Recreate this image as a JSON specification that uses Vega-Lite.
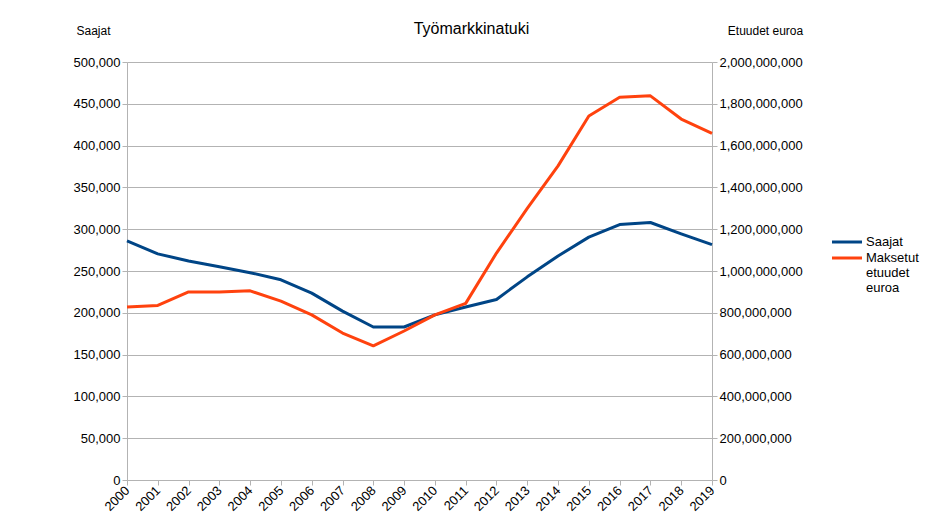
{
  "$schema": "https://vega.github.io/schema/vega-lite/v6.json",
  "width": 585,
  "height": 418,
  "autosize": {"type": "none"},
  "padding": {"left": 127, "top": 62, "right": 231, "bottom": 50},
  "background": "white",
  "config": {
    "font": "Liberation Sans",
    "view": {"stroke": null},
    "style": {"guide-label": {"lineHeight": 15}},
    "axis": {"labelFont": "Liberation Sans", "titleFont": "Liberation Sans", "labelColor": "#000", "titleColor": "#000", "titleFontWeight": "normal", "domainColor": "#b3b3b3", "tickColor": "#b3b3b3", "gridColor": "#b3b3b3"}
  },
  "title": {"text": "Työmarkkinatuki", "fontSize": 16, "fontWeight": "normal", "font": "Liberation Sans", "color": "#000", "anchor": "middle", "frame": "group", "dx": 52, "offset": -13},
  "data": {
    "values": [
      {"year": "2000", "saajat": 286000, "euro": 828000000},
      {"year": "2001", "saajat": 270500, "euro": 835000000},
      {"year": "2002", "saajat": 262000, "euro": 900000000},
      {"year": "2003", "saajat": 255000, "euro": 900000000},
      {"year": "2004", "saajat": 248000, "euro": 905000000},
      {"year": "2005", "saajat": 239500, "euro": 856000000},
      {"year": "2006", "saajat": 223500, "euro": 790000000},
      {"year": "2007", "saajat": 202000, "euro": 703000000},
      {"year": "2008", "saajat": 183000, "euro": 642000000},
      {"year": "2009", "saajat": 183000, "euro": 713000000},
      {"year": "2010", "saajat": 197500, "euro": 790000000},
      {"year": "2011", "saajat": 207000, "euro": 845000000},
      {"year": "2012", "saajat": 216000, "euro": 1086000000},
      {"year": "2013", "saajat": 243000, "euro": 1300000000},
      {"year": "2014", "saajat": 268000, "euro": 1503000000},
      {"year": "2015", "saajat": 290500, "euro": 1742000000},
      {"year": "2016", "saajat": 305500, "euro": 1831000000},
      {"year": "2017", "saajat": 308000, "euro": 1838000000},
      {"year": "2018", "saajat": 294500, "euro": 1727000000},
      {"year": "2019", "saajat": 281500, "euro": 1659000000}
    ]
  },
  "encoding": {
    "x": {"field": "year", "type": "ordinal", "scale": {"type": "point", "padding": 0},
      "axis": {"title": null, "labelAngle": -45, "labelAlign": "right", "labelBaseline": "middle", "labelFontSize": 13, "tickSize": 5, "grid": false, "labelPadding": 3}}
  },
  "layer": [
    {
      "mark": {"type": "line", "strokeWidth": 3, "strokeJoin": "round"},
      "encoding": {
        "y": {"field": "saajat", "type": "quantitative", "scale": {"domain": [0, 500000]},
          "axis": {"title": "Saajat", "titleAngle": 0, "titleAlign": "center", "titleBaseline": "middle", "titleX": -34, "titleY": -32, "titleFontSize": 12, "format": ",d", "tickCount": 10, "labelFontSize": 13, "tickSize": 5, "labelPadding": 2, "grid": true}},
        "color": {"datum": "Saajat", "type": "nominal",
          "scale": {"domain": ["Saajat", "Maksetut etuudet euroa"], "range": ["#004586", "#ff420e"]},
          "legend": {"title": null, "orient": "none", "legendX": 711, "legendY": 171, "symbolType": "M-2,0H2", "symbolStrokeWidth": 3, "symbolSize": 225, "labelOffset": 10, "labelFontSize": 13, "labelColor": "#000", "labelFont": "Liberation Sans", "labelExpr": "datum.label == 'Saajat' ? 'Saajat' : ['Maksetut', 'etuudet', 'euroa']", "labelBaseline": "middle", "rowPadding": 0}}
      }
    },
    {
      "mark": {"type": "line", "strokeWidth": 3, "strokeJoin": "round"},
      "encoding": {
        "y": {"field": "euro", "type": "quantitative", "scale": {"domain": [0, 2000000000]},
          "axis": {"orient": "right", "title": "Etuudet euroa", "titleAngle": 0, "titleAlign": "center", "titleBaseline": "middle", "titleX": 53, "titleY": -32, "titleFontSize": 12, "format": ",d", "tickCount": 10, "labelFontSize": 13, "tickSize": 5, "labelPadding": 2, "grid": false}},
        "color": {"datum": "Maksetut etuudet euroa", "type": "nominal"}
      }
    }
  ],
  "resolve": {"scale": {"y": "independent"}}
}
